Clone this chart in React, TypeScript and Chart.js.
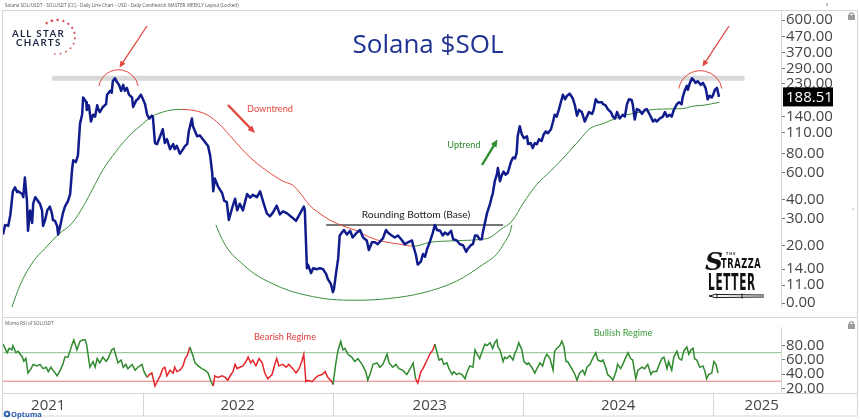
import React, { useEffect, useRef } from "react";
import { Chart, registerables } from "chart.js";

Chart.register(...registerables);

// ---------- DATA (x = days since 2021-01-01) ----------
const xMin = 96;
const xMax = 1591;

const priceDays = [96,100,106,110,115,119,123,125,133,135,138,142,144,148,152,154,158,163,167,171,173,177,181,186,190,192,196,200,202,206,211,215,221,225,229,231,236,240,244,248,250,256,257,261,265,269,273,277,279,282,288,294,296,302,305,307,311,315,319,323,327,330,334,338,344,346,352,355,361,365,369,373,377,382,384,388,392,398,403,407,411,417,423,426,430,436,442,446,450,453,459,461,469,474,480,490,494,498,500,503,509,517,521,526,530,536,542,546,551,557,565,571,576,584,590,596,603,609,615,622,628,634,642,651,659,667,674,676,680,682,688,692,699,705,711,717,720,726,730,732,736,740,743,747,751,757,763,768,776,782,788,795,799,805,811,816,826,832,836,843,849,855,863,868,874,882,884,889,893,899,903,907,911,916,922,926,930,936,941,945,951,957,961,968,974,980,986,989,995,999,1003,1007,1012,1016,1018,1022,1026,1032,1035,1037,1041,1045,1047,1051,1055,1058,1062,1066,1072,1076,1080,1083,1085,1089,1093,1097,1103,1105,1110,1114,1118,1122,1126,1131,1135,1139,1143,1149,1153,1156,1160,1164,1168,1172,1176,1180,1185,1191,1195,1199,1203,1208,1210,1214,1218,1222,1228,1231,1235,1239,1247,1249,1254,1258,1264,1268,1272,1276,1281,1287,1291,1295,1299,1304,1306,1310,1314,1318,1324,1329,1333,1339,1345,1349,1352,1358,1364,1368,1372,1377,1381,1385,1391,1395,1400,1402,1406,1410,1412,1416,1420,1423,1427,1431,1437,1441,1446,1448,1450,1454,1458,1460,1464,1468,1470,1472];
const priceValues = [23.6,27.3,26.9,31.6,45.4,48.2,44.8,45.4,43.5,41.5,55.8,39.3,25,34,28.1,37.6,41.5,39.3,37.6,34,26.9,29.4,34,36,32.5,29.4,29,26.9,23.6,26.9,32.5,36,39.3,43.5,64.5,72.5,70.5,78,126,144,187,174,155,166,130,144,140,166,157,150,162,169,195,207,201,239,250,236,226,207,226,207,216,195,187,162,179,182,195,182,169,144,136,142,140,94,92.5,104,115.7,94,99.6,85.7,92.5,85.7,90,80,85.7,90,92.5,112,136,121,104,105.6,99.6,90,78,60,45.4,55,48.9,44.2,39.3,38.7,29.4,35,40.5,34,37.6,34,43.5,41.2,43,41.5,45.4,38.7,32.5,31.1,33,36.5,32,33.5,32.5,30.7,29,32.5,36,34,14.2,15,13.2,14.2,14,14.2,14,13,12.1,11.2,9.9,10.4,13.2,16.4,23.3,24.3,25.3,23.6,25,22.6,24.3,25.3,22.6,21.6,18.7,21,21,20.4,22.3,25.3,24.3,23.3,22.6,23.3,21.6,20.4,21,21.6,20.1,17.6,15,15.7,17.6,16.9,19,21,24.3,27.3,25.3,25,23.3,24.3,23.6,25,22,21.6,20.4,20.1,18.2,19,20.1,20.4,23.3,23.3,22,22,24.3,28.1,32.5,37.6,41.5,43.5,52.8,58.3,64.5,52.8,58.3,61,58.3,60,70.5,75.5,74.5,81,104,121,107,101,104,92.5,94,87,94,92.5,99.6,97,107,112,109,115.7,130,144,140,155,174,195,182,192,198,184,166,142,155,150,144,130,140,150,146,155,182,174,174,169,166,157,150,140,136,150,136,144,140,169,182,180,169,134,157,155,146,155,157,144,130,134,130,136,140,150,140,144,140,155,169,174,169,187,207,223,210,233,250,243,233,239,226,233,216,201,182,192,187,192,210,216,201,188.51];
const lastPrice = 188.51;

const maDays = [113,129,154,177,202,229,250,269,288,311,334,359,382,403,421,440,461,488,513,538,571,603,634,653,667,686,699,724,749,776,801,826,859,886,916,949,980,1012,1032,1051,1076,1095,1122,1147,1172,1205,1224,1249,1268,1295,1314,1339,1364,1383,1402,1422,1441,1473];
const maValues = [7.9,11.05,15.7,19.2,23.6,28.1,36,47.5,62.7,81,101,121,140,150,155,156,154,144,124,99.6,75.5,61.8,52.8,49.6,44.2,36.5,33.5,29.4,26.9,25,22.6,21.3,20.4,19.8,21,21.4,21.6,21.9,22.6,25.3,29.4,37.6,50.4,61,74.5,99.6,117,126,134,144,148,155,157,157.5,158,164,166,174];

const roundingDays = [505,517,532,551,580,615,647,680,724,776,839,903,968,1018,1045,1060,1070,1074];
const roundingValues = [27.3,22,18.2,15.7,13,11.2,10.1,9.43,8.89,8.76,9.0,9.8,11.7,15,17.6,21,24.3,27.3];

const baseDays = [717, 1057];
const baseLevel = 27.3;
const resistanceDays = [190, 1521];
const resistanceLevel = 250;
const peakDays = [318, 1436];
const peakPrices = [210, 201];

const rsiDays = [96,100,104,108,113,115,121,125,133,136,140,144,150,154,161,167,173,179,183,188,192,200,206,211,215,221,229,232,238,244,250,254,257,263,269,273,277,282,288,294,298,305,309,313,317,323,327,332,336,344,350,355,363,367,373,377,382,388,392,398,403,407,411,417,423,426,430,436,442,446,450,455,461,465,471,478,484,490,496,500,503,509,517,523,528,534,538,542,546,551,557,563,567,572,576,582,588,594,599,605,613,619,622,626,634,640,645,653,659,665,670,674,678,682,690,695,701,709,715,720,728,730,736,740,745,749,753,759,766,772,778,786,793,797,803,807,815,820,826,834,838,845,851,857,864,872,880,884,889,893,899,903,911,916,922,926,930,934,939,943,949,953,959,962,968,972,978,984,987,993,999,1003,1007,1012,1018,1022,1026,1032,1037,1041,1045,1047,1051,1057,1060,1064,1070,1076,1080,1083,1087,1093,1097,1103,1106,1112,1118,1122,1128,1133,1137,1141,1147,1153,1156,1160,1166,1170,1174,1178,1181,1189,1195,1199,1204,1210,1214,1218,1224,1229,1235,1239,1245,1249,1254,1258,1264,1268,1274,1277,1283,1287,1293,1297,1302,1306,1312,1316,1324,1329,1335,1341,1345,1352,1356,1362,1366,1372,1375,1381,1385,1391,1395,1400,1404,1410,1414,1418,1422,1425,1429,1435,1441,1445,1448,1452,1458,1462,1466,1470];
const rsiValues = [82,76,70,76,74,80,70,72,64,58,62,41.5,47.6,53.6,51.5,53.6,47.6,49.6,43.5,49.6,45.5,37.5,45.5,53.6,64,64,82,88,74,86,88,88,80,49.6,57.6,49.6,61.8,55.7,63.8,57.6,61.8,74,76,65.8,55.7,59.7,49.6,53.6,47.6,53.6,45.5,49.6,53.6,43.5,35.4,39.4,41.5,23.3,29.3,37.5,47.6,49.6,37.5,45.5,41.5,49.6,43.5,45.5,51.5,61.8,65.8,78,65.8,55.7,51.5,47.6,45.5,41.5,29.3,23.3,37.5,35.4,37.5,35.4,31.4,39.4,43.5,53.6,47.6,49.6,51.5,57.6,63.8,55.7,59.7,51.5,61.8,55.7,41.5,33.4,39.4,55.7,61.8,51.5,53.6,49.6,53.6,47.6,41.5,47.6,57.6,67.8,29.3,31.4,29.3,33.4,37.5,39.4,43.5,35.4,29.3,25.3,57.6,74,86,74,76,67.8,63.8,57.6,61.8,53.6,43.5,31.4,43.5,53.6,55.7,49.6,53.6,67.8,55.7,49.6,53.6,47.6,45.5,39.4,49.6,55.7,33.4,27.3,43.5,47.6,59.7,67.8,74,82,70,59.7,61.8,53.6,55.7,47.6,39.4,43.5,39.4,41.5,39.4,33.4,41.5,51.5,49.6,74,67.8,61.8,74,82,80,84,76,84,88,78,74,57.6,63.8,61.8,65.8,59.7,70,74,84,74,57.6,53.6,55.7,49.6,41.5,47.6,55.7,51.5,61.8,67.8,61.8,45.5,72,76,80,86,78,57.6,57.6,47.6,39.4,31.4,41.5,45.5,39.4,49.6,53.6,61.8,70,59.7,57.6,59.7,49.6,39.4,35.4,31.4,43.5,53.6,47.6,53.6,63.8,70,61.8,59.7,33.4,45.5,49.6,47.6,53.6,39.4,43.5,43.5,51.5,61.8,63.8,47.6,57.6,45.5,63.8,72,61.8,59.7,72,78,67.8,74,76,61.8,59.7,49.6,51.5,43.5,33.4,39.4,41.5,57.6,53.6,41.5];
const rsiUpper = 70;
const rsiLower = 30;
const bearishRanges = [[369, 455], [497, 730], [887, 924]];

const priceTickValues = [600, 470, 370, 290, 230, 140, 110, 80, 60, 40, 30, 20, 14, 11, 8.4];
const priceTickLabels = ["600.00","470.00","370.00","290.00","230.00","140.00","110.00","80.00","60.00","40.00","30.00","20.00","14.00","11.00","0.00"];
const rsiTickValues = [20, 40, 60, 80];
const rsiTickLabels = ["20.00", "40.00", "60.00", "80.00"];
const yearBoundaryDays = [365, 730, 1095, 1461];
const yearLabelDays = [183, 547, 916, 1278, 1554];
const yearLabels = ["2021", "2022", "2023", "2024", "2025"];

// ---------- STYLE ----------
const NAVY = "#101c8c";
const GREEN = "#3d8f3d";
const RED = "#e2473f";
const RSI_GREEN = "#2f8a2f";
const RSI_RED = "#e5262b";
const FRAME = "#d6d6d6";
const SANS = "'Open Sans', 'DejaVu Sans', sans-serif";
const LATO = "Lato, 'Open Sans', sans-serif";

const toXY = (xs: number[], ys: number[]) => xs.map((x, i) => ({ x, y: ys[i] }));
const isBearish = (d: number) => bearishRanges.some(([a, b]) => d >= a && d < b);

function arrow(ctx: CanvasRenderingContext2D, x1: number, y1: number, x2: number, y2: number, color: string, lw: number, head: number) {
  ctx.save();
  ctx.strokeStyle = color;
  ctx.fillStyle = color;
  ctx.lineWidth = lw;
  const a = Math.atan2(y2 - y1, x2 - x1);
  ctx.beginPath();
  ctx.moveTo(x1, y1);
  ctx.lineTo(x2 - head * 0.7 * Math.cos(a), y2 - head * 0.7 * Math.sin(a));
  ctx.stroke();
  ctx.beginPath();
  ctx.moveTo(x2, y2);
  ctx.lineTo(x2 - head * Math.cos(a - 0.42), y2 - head * Math.sin(a - 0.42));
  ctx.lineTo(x2 - head * Math.cos(a + 0.42), y2 - head * Math.sin(a + 0.42));
  ctx.closePath();
  ctx.fill();
  ctx.restore();
}

function star(ctx: CanvasRenderingContext2D, x: number, y: number, r: number) {
  ctx.beginPath();
  for (let i = 0; i < 10; i++) {
    const rr = i % 2 === 0 ? r : r * 0.45;
    const a = -Math.PI / 2 + (i * Math.PI) / 5;
    const px = x + rr * Math.cos(a);
    const py = y + rr * Math.sin(a);
    if (i === 0) ctx.moveTo(px, py); else ctx.lineTo(px, py);
  }
  ctx.closePath();
  ctx.fill();
}

function lock(ctx: CanvasRenderingContext2D, x: number, y: number) {
  ctx.save();
  ctx.fillStyle = "#9b9b9b";
  ctx.strokeStyle = "#9b9b9b";
  ctx.lineWidth = 1.2;
  ctx.beginPath();
  ctx.arc(x + 3.5, y + 3, 2.2, Math.PI, 0);
  ctx.stroke();
  ctx.fillRect(x, y + 3, 7, 5);
  ctx.restore();
}

const mainOverlay = {
  id: "mainOverlay",
  afterDraw(chart: any) {
    const ctx: CanvasRenderingContext2D = chart.ctx;
    const xs = chart.scales.x;
    const ys = chart.scales.y;
    ctx.save();
    // frame
    ctx.strokeStyle = FRAME;
    ctx.lineWidth = 1;
    ctx.strokeRect(2.5, 10.5, 855, 307);

    // header
    ctx.fillStyle = "#555";
    ctx.font = `4.6px ${SANS}`;
    ctx.textBaseline = "alphabetic";
    ctx.textAlign = "left";
    ctx.fillText("Solana SOL/USDT - SOLUSDT (CC) - Daily Line Chart - USD - Daily Candlestick MASTER WEEKLY Layout (Locked)", 5, 7);
    ctx.fillText("x", 826, 6);

    // ALL STAR CHARTS logo
    ctx.fillStyle = "#d1343d";
    for (let i = 0; i < 13; i++) {
      const a = ((-125 + i * 18.5) * Math.PI) / 180;
      star(ctx, 57 + 18 * Math.cos(a), 37 + 17 * Math.sin(a), 1.9 - i * 0.06);
    }
    ctx.fillStyle = "#1d2944";
    ctx.font = `bold 9.7px ${LATO}`;
    (ctx as any).letterSpacing = "1.3px";
    ctx.fillText("ALL STAR", 12, 36.5);
    ctx.fillText("CHARTS", 16, 45.5);
    (ctx as any).letterSpacing = "0px";

    // title
    ctx.fillStyle = "#1f3192";
    ctx.font = `26px ${SANS}`;
    ctx.textAlign = "center";
    ctx.fillText("Solana $SOL", 428, 53);

    // peak arcs
    ctx.strokeStyle = RED;
    ctx.lineWidth = 1;
    peakDays.forEach((d, i) => {
      const cx = xs.getPixelForValue(d);
      const cy = ys.getPixelForValue(peakPrices[i]);
      const r = i === 0 ? 20 : 22;
      ctx.beginPath();
      ctx.arc(cx, cy, r, Math.PI * 1.06, Math.PI * 1.94);
      ctx.stroke();
    });

    // arrows
    arrow(ctx, 147, 26, 119.5, 67.5, RED, 1.3, 7);
    arrow(ctx, 729, 26, 702.5, 66.5, RED, 1.3, 7);
    arrow(ctx, 228, 105, 255, 133, RED, 2.4, 8);
    arrow(ctx, 482, 165, 497.5, 139.5, "#2e8b2e", 2.4, 8);

    // annotation texts
    ctx.textBaseline = "middle";
    ctx.textAlign = "center";
    ctx.font = `9.2px ${LATO}`;
    ctx.fillStyle = RED;
    ctx.fillText("Downtrend", 270, 109);
    ctx.fillStyle = "#2e8b2e";
    ctx.fillText("Uptrend", 464, 145);
    ctx.fillStyle = "#222";
    ctx.font = `10.3px ${LATO}`;
    ctx.fillText("Rounding Bottom (Base)", 416, 214.5);

    // Strazza logo
    ctx.fillStyle = "#111";
    ctx.textAlign = "left";
    ctx.textBaseline = "alphabetic";
    ctx.font = `bold 3.8px ${LATO}`;
    (ctx as any).letterSpacing = "1px";
    ctx.fillText("THE", 726, 255);
    (ctx as any).letterSpacing = "0px";
    ctx.font = `italic bold 25px 'DejaVu Serif', serif`;
    ctx.fillText("S", 705, 270);
    ctx.save();
    ctx.translate(721, 268);
    ctx.scale(0.75, 1.25);
    ctx.font = `bold 11px 'DejaVu Sans', sans-serif`;
    (ctx as any).letterSpacing = "0.8px";
    ctx.fillText("TRAZZA", 0, 0);
    ctx.restore();
    ctx.save();
    ctx.translate(708, 290);
    ctx.scale(0.7, 1.55);
    ctx.font = `bold 15px 'DejaVu Sans', sans-serif`;
    (ctx as any).letterSpacing = "1px";
    ctx.fillText("LETTER", 0, 0);
    ctx.restore();
    (ctx as any).letterSpacing = "0px";
    ctx.strokeStyle = "#111";
    ctx.lineWidth = 1;
    ctx.beginPath();
    ctx.moveTo(709, 296);
    ctx.lineTo(717, 294);
    ctx.lineTo(717, 298);
    ctx.closePath();
    ctx.stroke();
    ctx.beginPath();
    ctx.moveTo(717, 294.5);
    ctx.lineTo(764, 295);
    ctx.moveTo(717, 297.5);
    ctx.lineTo(764, 297);
    ctx.stroke();
    ctx.beginPath();
    ctx.moveTo(742, 293.5);
    ctx.lineTo(742, 298.5);
    ctx.stroke();

    // last price box
    const py = ys.getPixelForValue(lastPrice);
    ctx.fillStyle = "#000";
    ctx.fillRect(783, py - 9.5, 50, 19);
    ctx.fillStyle = "#fff";
    ctx.font = `15px ${SANS}`;
    ctx.textBaseline = "middle";
    ctx.fillText(lastPrice.toFixed(2), 786, py + 0.5);

    // misc icons
    lock(ctx, 848, 12);
    ctx.fillStyle = "#999";
    ctx.font = `8px ${SANS}`;
    ctx.fillText("‹", 852, 209);
    ctx.restore();
  },
};

const rsiOverlay = {
  id: "rsiOverlay",
  afterDraw(chart: any) {
    const ctx: CanvasRenderingContext2D = chart.ctx;
    const xs = chart.scales.x;
    const area = chart.chartArea;
    ctx.save();
    ctx.strokeStyle = FRAME;
    ctx.lineWidth = 1;
    ctx.strokeRect(2.5, 0.5, 855, 98.5);
    ctx.beginPath();
    ctx.moveTo(3, area.bottom + 0.5);
    ctx.lineTo(857, area.bottom + 0.5);
    ctx.stroke();
    yearBoundaryDays.forEach((d) => {
      const x = Math.round(xs.getPixelForValue(d)) + 0.5;
      ctx.beginPath();
      ctx.moveTo(x, area.bottom);
      ctx.lineTo(x, 99);
      ctx.stroke();
    });
    ctx.fillStyle = "#555";
    ctx.font = `4.6px ${SANS}`;
    ctx.textAlign = "left";
    ctx.textBaseline = "alphabetic";
    ctx.fillText("Momo RSI of SOLUSDT", 5, 7.5);
    ctx.textAlign = "center";
    ctx.textBaseline = "middle";
    ctx.font = `9.2px ${LATO}`;
    ctx.fillStyle = "#e03a3a";
    ctx.fillText("Bearish Regime", 285, 20);
    ctx.fillStyle = "#3a9a3a";
    ctx.fillText("Bullish Regime", 623, 16);
    // Optuma
    ctx.fillStyle = "#2a5db0";
    ctx.beginPath();
    ctx.arc(7, 97, 3.2, 0, Math.PI * 2);
    ctx.fill();
    ctx.fillStyle = "#fff";
    ctx.beginPath();
    ctx.arc(7, 97, 1.4, 0, Math.PI * 2);
    ctx.fill();
    ctx.fillStyle = "#2a5db0";
    ctx.textAlign = "left";
    ctx.font = `bold 7.5px ${SANS}`;
    ctx.fillText("Optuma", 11, 97.5);
    lock(ctx, 848, 4);
    ctx.restore();
  },
};

export default function App() {
  const mainRef = useRef<HTMLCanvasElement>(null);
  const rsiRef = useRef<HTMLCanvasElement>(null);

  useEffect(() => {
    Chart.defaults.font.family = SANS;
    const mainChart = new Chart(mainRef.current as HTMLCanvasElement, {
      type: "line",
      data: {
        datasets: [
          { label: "SOLUSDT", data: toXY(priceDays, priceValues), borderColor: NAVY, borderWidth: 2.5, pointRadius: 0, tension: 0, borderJoinStyle: "round" } as any,
          {
            label: "MA", data: toXY(maDays, maValues), borderColor: GREEN, borderWidth: 1, pointRadius: 0, cubicInterpolationMode: "monotone",
            segment: { borderColor: (c: any) => (c.p1.parsed.y >= c.p0.parsed.y ? GREEN : RED) },
          } as any,
          { label: "Rounding bottom", data: toXY(roundingDays, roundingValues), borderColor: GREEN, borderWidth: 1, pointRadius: 0, cubicInterpolationMode: "monotone" } as any,
          { label: "Base", data: baseDays.map((d) => ({ x: d, y: baseLevel })), borderColor: "#4a4a4a", borderWidth: 1.4, pointRadius: 0 } as any,
          { label: "Resistance", data: resistanceDays.map((d) => ({ x: d, y: resistanceLevel })), borderColor: "#d9d9d9", borderWidth: 5, pointRadius: 0, borderCapStyle: "butt" } as any,
        ],
      },
      options: {
        responsive: false,
        animation: false,
        events: [],
        layout: { padding: { left: 3, right: 3, top: 10, bottom: 0 } },
        plugins: { legend: { display: false }, tooltip: { enabled: false } },
        scales: {
          x: { type: "linear", min: xMin, max: xMax, display: false },
          y: {
            type: "logarithmic",
            position: "right",
            min: 7.91,
            max: 700,
            afterBuildTicks: (s: any) => { s.ticks = priceTickValues.map((v) => ({ value: v })); },
            afterFit: (s: any) => { s.width = 76; },
            grid: { drawOnChartArea: false, drawTicks: true, tickLength: 4, tickColor: "#777" },
            border: { display: true, color: FRAME },
            ticks: { autoSkip: false, padding: 1, color: "#444", font: { size: 15, family: SANS }, callback: (_v: any, i: number) => priceTickLabels[i] },
          } as any,
        },
      },
      plugins: [mainOverlay],
    });

    const rsiChart = new Chart(rsiRef.current as HTMLCanvasElement, {
      type: "line",
      data: {
        datasets: [
          {
            label: "RSI", data: toXY(rsiDays, rsiValues), borderColor: RSI_GREEN, borderWidth: 1.5, pointRadius: 0,
            segment: { borderColor: (c: any) => (isBearish(c.p0.parsed.x) ? RSI_RED : RSI_GREEN) },
          } as any,
          { label: "Upper", data: [{ x: xMin, y: rsiUpper }, { x: xMax, y: rsiUpper }], borderColor: "#8cc08c", borderWidth: 1, pointRadius: 0 } as any,
          { label: "Lower", data: [{ x: xMin, y: rsiLower }, { x: xMax, y: rsiLower }], borderColor: "#e77a7a", borderWidth: 1, pointRadius: 0 } as any,
        ],
      },
      options: {
        responsive: false,
        animation: false,
        events: [],
        layout: { padding: { left: 3, right: 3, top: 0, bottom: 0 } },
        plugins: { legend: { display: false }, tooltip: { enabled: false } },
        scales: {
          x: {
            type: "linear", min: xMin, max: xMax, position: "bottom",
            afterBuildTicks: (s: any) => { s.ticks = yearLabelDays.map((v) => ({ value: v })); },
            afterFit: (s: any) => { s.height = 27; },
            grid: { display: false },
            border: { display: false },
            ticks: { autoSkip: false, maxRotation: 0, padding: -4, color: "#444", font: { size: 15, family: SANS }, callback: (_v: any, i: number) => yearLabels[i] },
          } as any,
          y: {
            position: "right", min: 13.5, max: 106,
            afterBuildTicks: (s: any) => { s.ticks = rsiTickValues.map((v) => ({ value: v })); },
            afterFit: (s: any) => { s.width = 76; },
            grid: { drawOnChartArea: false, drawTicks: true, tickLength: 4, tickColor: "#777" },
            border: { display: true, color: FRAME },
            ticks: { autoSkip: false, padding: 1, color: "#444", font: { size: 15, family: SANS }, callback: (_v: any, i: number) => rsiTickLabels[i] },
          } as any,
        },
      },
      plugins: [rsiOverlay],
    });

    const fonts = (document as any).fonts;
    if (fonts && fonts.load) {
      Promise.all([
        fonts.load(`15px 'Open Sans'`),
        fonts.load(`bold 10px Lato`),
        fonts.load(`10px Lato`),
        fonts.load(`bold 10px 'DejaVu Sans'`),
      ]).then(() => { mainChart.update(); rsiChart.update(); }).catch(() => {});
    }

    return () => {
      mainChart.destroy();
      rsiChart.destroy();
    };
  }, []);

  return (
    <div style={{ position: "fixed", left: 0, top: 0, width: 860, height: 420, background: "#fff", overflow: "hidden" }}>
      <canvas ref={mainRef} width={860} height={317} style={{ position: "absolute", left: 0, top: 0, display: "block" }} />
      <canvas ref={rsiRef} width={860} height={103} style={{ position: "absolute", left: 0, top: 317, display: "block" }} />
    </div>
  );
}
